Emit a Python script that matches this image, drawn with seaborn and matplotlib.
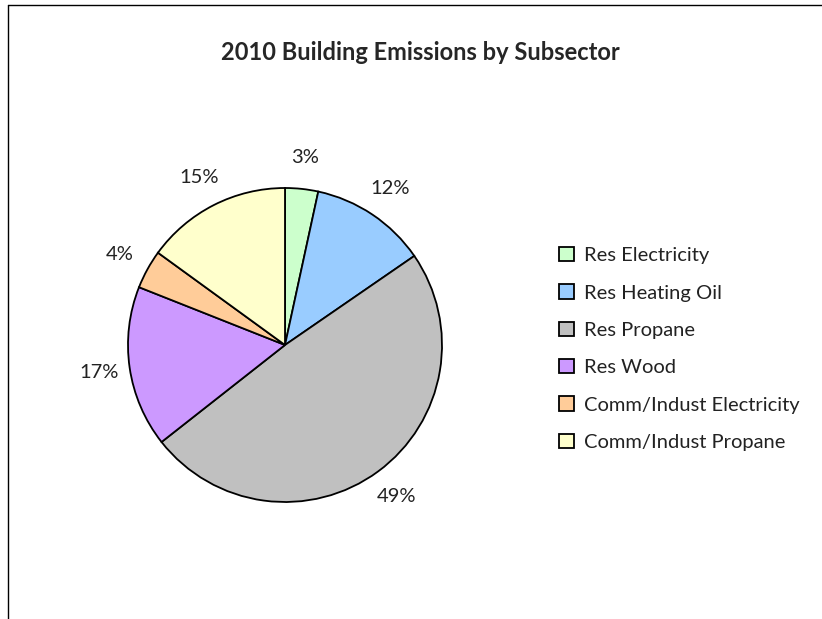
import numpy as np
import matplotlib
matplotlib.use("Agg")
import matplotlib.pyplot as plt
from matplotlib.lines import Line2D
import seaborn as sns

sns.set_theme(style="white")
plt.rcParams['font.family'] = ['Lato', 'DejaVu Sans']

# data
subsectors = ["Res Electricity", "Res Heating Oil", "Res Propane", "Res Wood",
              "Comm/Indust Electricity", "Comm/Indust Propane"]
shares = [3.4, 12.0, 49.0, 16.6, 4.0, 15.0]
colors = ["#CCFFCC", "#99CCFF", "#C0C0C0", "#CC99FF", "#FFCC99", "#FFFFCC"]

W, H = 822, 619
fig = plt.figure(figsize=(W / 100, H / 100), dpi=100)

# pie axes, centred around (285, 345) px with radius ~157 px
cx, cy, r = 285, 345, 157
ax = fig.add_axes([(cx - r) / W, (H - cy - r) / H, 2 * r / W, 2 * r / H])
wedges, texts, autotexts = ax.pie(
    shares, colors=colors, startangle=90, counterclock=False,
    autopct="%.0f%%", pctdistance=1.2,
    wedgeprops=dict(edgecolor="black", linewidth=1.3),
    textprops=dict(fontsize=14.5, color="#222222"))
ax.set_xlim(-1, 1)
ax.set_ylim(-1, 1)
ax.axis("off")
for t in autotexts:
    t.set_clip_on(False)

fig.text(420 / W, 1 - 52 / H, "2010 Building Emissions by Subsector",
         ha="center", va="center", fontsize=17, fontweight="bold")

fig.legend(wedges, subsectors, loc="upper left",
           bbox_to_anchor=(551 / W, 1 - 239 / H), frameon=False,
           fontsize=14.5, handlelength=0.72, handleheight=0.72,
           handletextpad=0.5, labelspacing=1.0, borderaxespad=0,
           labelcolor="#222222")

# chart border (top and left edges visible)
fig.add_artist(Line2D([7.5 / W, 1], [1 - 5 / H, 1 - 5 / H], color="black", lw=1,
                      transform=fig.transFigure))
fig.add_artist(Line2D([7.5 / W, 7.5 / W], [0, 1 - 5 / H], color="black", lw=1,
                      transform=fig.transFigure))

fig.savefig("out.png", dpi=100)
